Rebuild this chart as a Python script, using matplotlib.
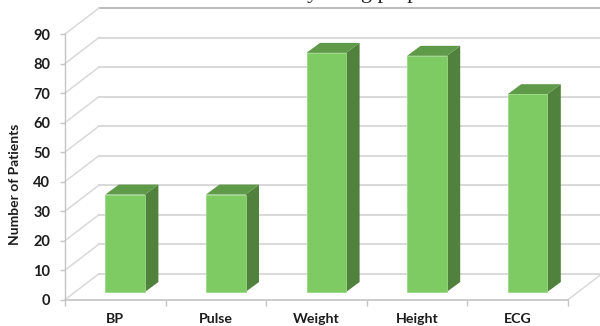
import matplotlib
matplotlib.use("Agg")
import matplotlib.pyplot as plt
from matplotlib.patches import Polygon

categories = ["BP", "Pulse", "Weight", "Height", "ECG"]
patients = [33, 33, 81, 80, 67]
y_ticks = [0, 10, 20, 30, 40, 50, 60, 70, 80, 90]

FIG_W, FIG_H = 600, 326
AX_L, AX_R, AX_BOTTOM, AX_TOP = 65.0, 568.0, 299.7, 34.0

plt.rcParams["font.family"] = ["Lato", "DejaVu Sans"]

fig = plt.figure(figsize=(FIG_W / 100, FIG_H / 100), dpi=100)
ax = fig.add_axes([AX_L / FIG_W, 1 - AX_BOTTOM / FIG_H,
                   (AX_R - AX_L) / FIG_W, (AX_BOTTOM - AX_TOP) / FIG_H])
ax.set_xlim(0, len(categories))
ax.set_ylim(0, 90)
ax.patch.set_alpha(0)
for side in ax.spines.values():
    side.set_visible(False)

# Pixel-to-data scales for the oblique depth
px_x = len(categories) / (AX_R - AX_L)
px_y = 90 / (AX_BOTTOM - AX_TOP)
wall_dx = 34.0 * px_x
wall_dy = 26.0 * px_y
grid_color = "#d9d9d9"
edge_color = "#c4c4c4"

# Back wall gridlines and the receding floor/side lines
for v in y_ticks:
    top = v == y_ticks[-1]
    ax.plot([wall_dx, len(categories) + wall_dx], [v + wall_dy] * 2,
            color="#a9a9a9" if top else grid_color, lw=1.1 if top else 1.4,
            clip_on=False, zorder=1)
    ax.plot([0, wall_dx], [v, v + wall_dy], color=grid_color, lw=1.1,
            clip_on=False, zorder=1)
ax.plot([len(categories), len(categories) + wall_dx], [0, wall_dy],
        color=grid_color, lw=1.1, clip_on=False, zorder=1)

# Front axis lines
ax.plot([0, 0], [0, 90], color=edge_color, lw=1.0, clip_on=False, zorder=2)
ax.plot([0, len(categories)], [0, 0], color=edge_color, lw=1.2, clip_on=False, zorder=2)

# Bars: front face plus oblique side and top faces
bar_width = 39.6 * px_x
bar_left = 40.3 * px_x
bar_lift = 7.7 * px_y
bar_dx = 13.5 * px_x
bar_dy = 10.0 * px_y
for i, value in enumerate(patients):
    x0 = i + bar_left
    x1 = x0 + bar_width
    y0 = bar_lift
    y1 = bar_lift + value
    ax.bar(x0, value, width=bar_width, bottom=y0, align="edge", color="#7ecb63",
           edgecolor="#9bd886", linewidth=0.6, zorder=4, clip_on=False)
    ax.add_patch(Polygon([(x1, y0), (x1 + bar_dx, y0 + bar_dy),
                          (x1 + bar_dx, y1 + bar_dy), (x1, y1)],
                         closed=True, facecolor="#50813d", edgecolor="none",
                         zorder=3, clip_on=False))
    ax.add_patch(Polygon([(x0, y1), (x1, y1), (x1 + bar_dx, y1 + bar_dy),
                          (x0 + bar_dx, y1 + bar_dy)],
                         closed=True, facecolor="#5f9a48", edgecolor="none",
                         zorder=3, clip_on=False))

ax.set_yticks(y_ticks)
ax.set_xticks(range(len(categories) + 1))
ax.set_xticklabels([""] * (len(categories) + 1))
ax.tick_params(axis="y", length=3.6, width=1.0, color=edge_color, pad=7,
               labelsize=10.5, labelcolor="#1c1c1c")
ax.tick_params(axis="x", length=4, width=1.0, color=edge_color)
for label in ax.get_yticklabels():
    label.set_fontweight("bold")

for i, name in enumerate(categories):
    ax.text(i + 0.5, -6.5, name, ha="center", va="center", fontsize=10.2,
            fontweight="bold", color="#1c1c1c", clip_on=False)

fig.text(15 / FIG_W, 1 - 184 / FIG_H, "Number of Patients", rotation=90,
         ha="center", va="center", fontsize=10.0, fontweight="bold", color="#1c1c1c")

# Chart title sits at the top edge of the figure
fig.text(296 / FIG_W, 1 + 2 / FIG_H, "by using proper", ha="left", va="baseline",
         fontsize=16, family="Liberation Serif", color="#222222")

fig.savefig("out.png", dpi=100)
